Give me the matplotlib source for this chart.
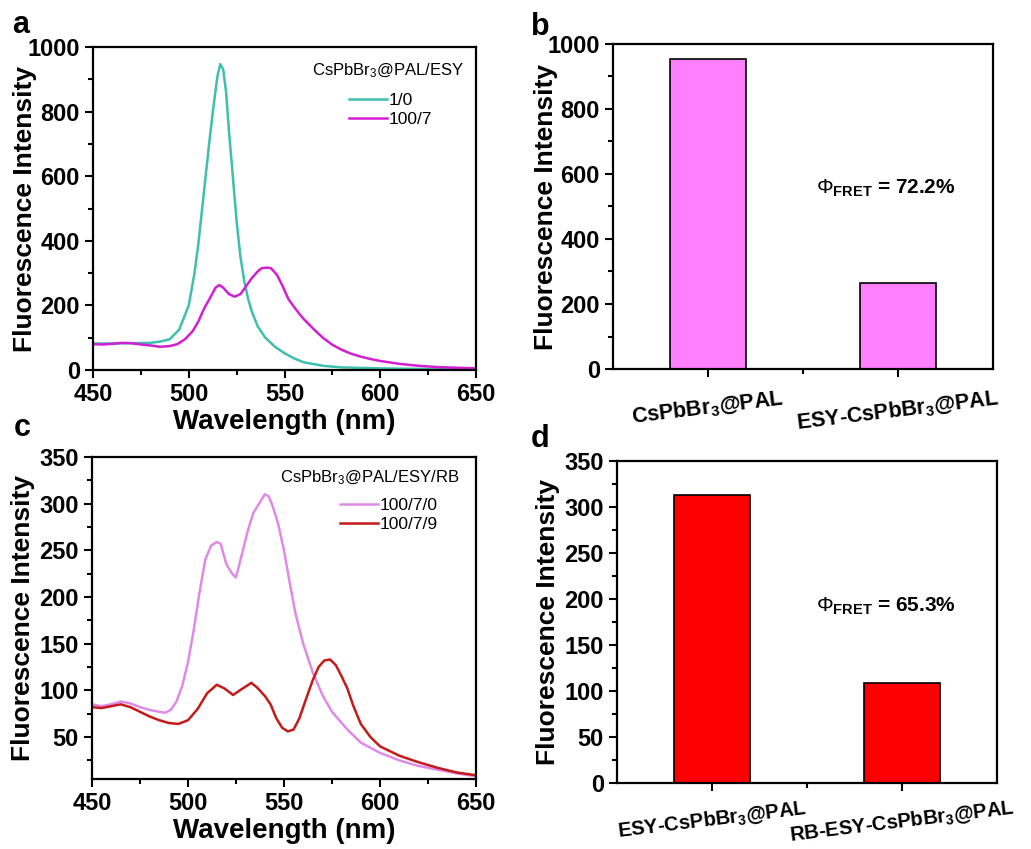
import matplotlib
matplotlib.use("Agg")
from matplotlib import pyplot as plt
from matplotlib.ticker import MultipleLocator

plt.rcParams['font.family'] = ['Liberation Sans', 'DejaVu Sans']
plt.rcParams['mathtext.fontset'] = 'custom'
plt.rcParams['mathtext.rm'] = 'Liberation Sans'
plt.rcParams['mathtext.bf'] = 'Liberation Sans:bold'
plt.rcParams['mathtext.it'] = 'Liberation Sans:italic'

# ---- panel a: CsPbBr3@PAL/ESY spectra ----
wl_a_10 = [450, 460, 470, 480, 485, 490, 495, 500, 503, 505, 507, 509, 511, 513,
           515, 516.5, 518, 519.5, 521, 523, 525, 527, 529, 531, 533, 536, 540,
           545, 550, 555, 560, 570, 580, 600, 625, 650]
int_a_10 = [82, 82, 83, 84, 88, 95, 125, 200, 300, 390, 500, 610, 720, 820,
            910, 947, 930, 860, 740, 600, 460, 350, 275, 220, 180, 135, 100,
            72, 52, 36, 24, 13, 8, 5, 3, 3]

wl_a_1007 = [450, 455, 460, 465, 470, 475, 480, 485, 490, 494, 498, 502, 505, 508,
             511, 514, 516, 518, 521, 524, 527, 530, 533, 536, 538, 541, 543, 546,
             549, 552, 555, 558, 560, 563, 566, 570, 575, 580, 585, 590, 595, 600,
             610, 620, 630, 640, 650]
int_a_1007 = [80, 79, 81, 84, 83, 79, 76, 72, 74, 80, 95, 120, 150, 190,
              222, 255, 263, 255, 235, 227, 235, 260, 285, 305, 315, 317, 315, 295,
              260, 220, 195, 172, 158, 140, 122, 100, 78, 62, 50, 41, 34, 28,
              19, 13, 9, 7, 5]

# ---- panel b ----
cats_b = ["CsPbBr$_\\mathbf{3}$@PAL", "ESY-CsPbBr$_\\mathbf{3}$@PAL"]
vals_b = [955, 266]

# ---- panel c: CsPbBr3@PAL/ESY/RB spectra ----
wl_c_0 = [450, 455, 460, 465, 470, 475, 480, 485, 488, 491, 494, 497, 500, 503,
          506, 509, 512, 515, 517, 520, 523, 525, 528, 531, 534, 537, 540, 542,
          544, 547, 550, 553, 556, 560, 565, 570, 575, 583, 590, 600, 610, 620,
          630, 640, 650]
int_c_0 = [85, 83, 85, 88, 86, 82, 79, 77, 76, 79, 88, 105, 130, 165,
           205, 240, 255, 259, 257, 235, 225, 221, 245, 270, 290, 300, 310, 308,
           298, 278, 250, 215, 182, 150, 119, 95, 77, 58, 44, 33, 25, 19,
           15, 11, 8]

wl_c_9 = [450, 455, 460, 465, 470, 475, 480, 485, 490, 495, 500, 505, 510, 515,
          519, 523.5, 527, 530, 533, 536, 540, 543, 546, 549, 552, 555, 558, 561,
          565, 568, 571, 574, 577, 580, 583, 586, 590, 595, 600, 610, 620, 630,
          640, 650]
int_c_9 = [82, 81, 83, 85, 82, 77, 72, 68, 65, 64, 68, 80, 97, 106,
           102, 95, 100, 104, 108, 103, 94, 85, 70, 60, 56, 58, 70, 88,
           111, 125, 132, 133, 127, 115, 102, 84, 64, 50, 40, 30, 23, 17,
           12, 9]

# ---- panel d ----
cats_d = ["ESY-CsPbBr$_\\mathbf{3}$@PAL", "RB-ESY-CsPbBr$_\\mathbf{3}$@PAL"]
vals_d = [313, 109]

W, H = 1031, 849
fig = plt.figure(figsize=(W / 100, H / 100), dpi=100)


def px_axes(l, t, r, b):
    return fig.add_axes([l / W, 1 - b / H, (r - l) / W, (b - t) / H])


def style(ax, ylab_x):
    for s in ax.spines.values():
        s.set_linewidth(1.6)
    ax.tick_params(which='both', direction='out', width=1.5, top=False, right=False)
    ax.tick_params(which='major', length=6, labelsize=17)
    ax.tick_params(which='minor', length=3.5)
    for lab in ax.get_xticklabels() + ax.get_yticklabels():
        lab.set_fontweight('bold')
    ax.set_ylabel('Fluorescence Intensity', fontsize=19, fontweight='bold')
    ax.yaxis.set_label_coords(ylab_x, 0.5)


def spectra_legend(ax, title, tx, ty, lx, ly):
    # title drawn separately so its gap to the entries matches the original
    ax.text(tx, ty, title, transform=ax.transAxes, fontsize=12,
            ha='center', va='center')
    ax.legend(frameon=False, loc='upper left', bbox_to_anchor=(lx, ly),
              fontsize=12.5, handlelength=2.2, handletextpad=0.1,
              labelspacing=0.2, borderaxespad=0, borderpad=0)


ax_a = px_axes(93, 47, 476, 370)
ax_b = px_axes(613, 44, 993, 369)
ax_c = px_axes(92, 457, 476, 779)
ax_d = px_axes(617, 461, 997, 783)

# panel a
ax_a.plot(wl_a_10, int_a_10, color='#3fbfad', lw=1.8, label='1/0')
ax_a.plot(wl_a_1007, int_a_1007, color='#d21fd2', lw=1.8, label='100/7')
ax_a.set_xlim(450, 650)
ax_a.set_ylim(0, 1000)
ax_a.xaxis.set_major_locator(MultipleLocator(50))
ax_a.xaxis.set_minor_locator(MultipleLocator(25))
ax_a.yaxis.set_major_locator(MultipleLocator(200))
ax_a.yaxis.set_minor_locator(MultipleLocator(100))
ax_a.set_xlabel('Wavelength (nm)', fontsize=20, fontweight='bold', labelpad=2)
style(ax_a, -0.146)
spectra_legend(ax_a, 'CsPbBr$_3$@PAL/ESY', 0.770, 0.926, 0.668, 0.858)

# panel b
pos = [1, 2]
ax_b.bar(pos, vals_b, width=0.4, color='#ff80ff', edgecolor='black', linewidth=1.2)
ax_b.set_xlim(0.5, 2.5)
ax_b.set_ylim(0, 1000)
ax_b.set_xticks(pos)
ax_b.set_xticks([1.5], minor=True)
ax_b.set_xticklabels(cats_b, rotation=7)
ax_b.yaxis.set_major_locator(MultipleLocator(200))
ax_b.yaxis.set_minor_locator(MultipleLocator(100))
style(ax_b, -0.145)
ax_b.tick_params(axis='x', which='major', labelsize=15.5, pad=7)
ax_b.text(1.57, 557, '$\\Phi_{\\mathbf{FRET}}$ = 72.2%', fontsize=15,
          fontweight='bold', va='center', ha='left')

# panel c
ax_c.plot(wl_c_0, int_c_0, color='#e08ae8', lw=1.8, label='100/7/0')
ax_c.plot(wl_c_9, int_c_9, color='#c41a1a', lw=1.8, label='100/7/9')
ax_c.set_xlim(450, 650)
ax_c.set_ylim(5, 350)
ax_c.xaxis.set_major_locator(MultipleLocator(50))
ax_c.xaxis.set_minor_locator(MultipleLocator(25))
ax_c.set_yticks([50, 100, 150, 200, 250, 300, 350])
ax_c.yaxis.set_minor_locator(MultipleLocator(25))
ax_c.set_xlabel('Wavelength (nm)', fontsize=20, fontweight='bold', labelpad=2)
style(ax_c, -0.148)
spectra_legend(ax_c, 'CsPbBr$_3$@PAL/ESY/RB', 0.724, 0.935, 0.646, 0.872)

# panel d
ax_d.bar(pos, vals_d, width=0.4, color='#ff0000', edgecolor='black', linewidth=1.2)
ax_d.set_xlim(0.5, 2.5)
ax_d.set_ylim(0, 350)
ax_d.set_xticks(pos)
ax_d.set_xticks([1.5], minor=True)
ax_d.set_xticklabels(cats_d, rotation=7)
ax_d.yaxis.set_major_locator(MultipleLocator(50))
ax_d.yaxis.set_minor_locator(MultipleLocator(25))
style(ax_d, -0.15)
ax_d.tick_params(axis='x', which='major', labelsize=14.5, pad=4)
ax_d.text(1.55, 192, '$\\Phi_{\\mathbf{FRET}}$ = 65.3%', fontsize=15,
          fontweight='bold', va='center', ha='left')

# panel letters
for letter, x, y in [('a', 12, 33), ('b', 531, 35), ('c', 14, 436), ('d', 531, 447)]:
    fig.text(x / W, 1 - y / H, letter, fontsize=22, fontweight='bold', va='baseline')

fig.savefig('out.png', dpi=100)
